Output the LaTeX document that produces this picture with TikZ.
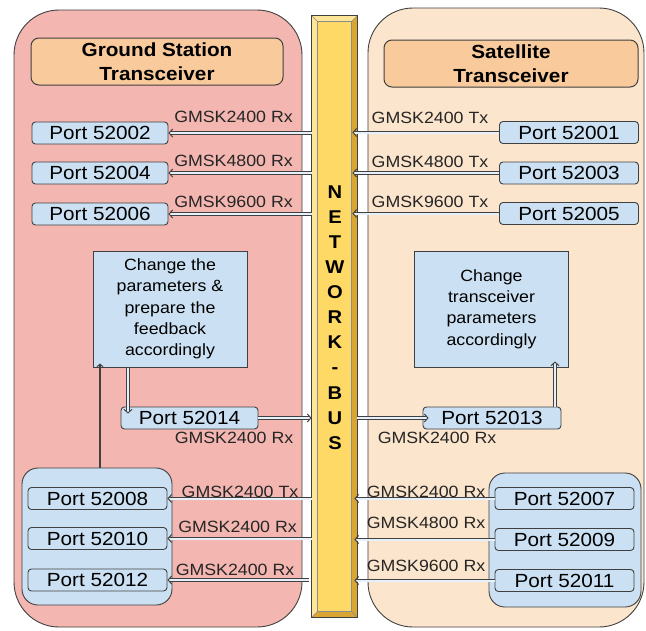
\documentclass[tikz,border=0pt]{standalone}
\usepackage{fontspec}
\setmainfont{Liberation Sans}[FakeStretch=1.09]
\usetikzlibrary{arrows.meta}
\definecolor{pinkC}{HTML}{F3B6B0}
\definecolor{peachC}{HTML}{FCE5CD}
\definecolor{titleC}{HTML}{F9CB9C}
\definecolor{portC}{HTML}{CBE1F3}
\definecolor{edgeC}{HTML}{404040}
\definecolor{busFace}{HTML}{FFD966}
\definecolor{busLight}{HTML}{FFE598}
\definecolor{busDark}{HTML}{D9A633}
\definecolor{arrowIn}{HTML}{E6F0FA}
\begin{document}
\begin{tikzpicture}[x=1pt,y=-1pt,
  panel/.style={draw=edgeC, line width=0.9pt, rounded corners=45pt},
  titlebox/.style={draw=edgeC, line width=1pt, fill=titleC, rounded corners=8pt, align=center,
     font=\fontsize{19}{24.5}\selectfont\bfseries},
  port/.style={draw=edgeC, line width=0.9pt, fill=portC, rounded corners=3.5pt, inner sep=0pt,
     minimum height=22pt, font=\fontsize{19}{22}\selectfont},
  grp/.style={draw=edgeC, line width=0.9pt, fill=portC, rounded corners=16pt, inner sep=0pt},
  actbox/.style={draw=edgeC, line width=1pt, fill=portC, inner sep=0pt, align=center,
     minimum width=154pt, minimum height=116pt, font=\fontsize{16.3}{21.3}\selectfont},
  lbl/.style={inner sep=0pt, font=\fontsize{16.3}{20}\selectfont, text=black!85},
  arr/.style={draw=edgeC, line width=0.75pt, double=arrowIn, double distance=2pt,
     -{Straight Barb[length=3.5pt,width=8pt,line width=1pt]}},
  solidarr/.style={draw=edgeC, line width=1.8pt,
     -{Straight Barb[length=2.5pt,width=6pt,line width=1pt]}},
]
\useasboundingbox (0,0) rectangle (646,630);
\fill[white] (0,0) rectangle (646,630);

% panels
\draw[panel, fill=pinkC] (14,10) rectangle (302,627);
\draw[panel, fill=peachC] (368,8) rectangle (644,627);

% titles
\node[titlebox, minimum width=252pt, minimum height=47pt] (tl) at (157,61.5) {Ground Station\\Transceiver};
\node[titlebox, minimum width=254pt, minimum height=47pt] (tr) at (511,63.5) {Satellite\\Transceiver};

% bus
\node[draw=edgeC, line width=0.9pt, fill=busDark, minimum width=45pt, minimum height=601pt, inner sep=0pt] (bus) at (334.5,316.5) {};
\fill[busLight] (bus.north west) -- (bus.north east) -- ([xshift=-6pt,yshift=-6pt]bus.north east)
  -- ([xshift=6pt,yshift=-6pt]bus.north west) -- ([xshift=6pt,yshift=6pt]bus.south west) -- (bus.south west) -- cycle;
\draw[fill=busFace, draw=edgeC!60, line width=0.4pt] ([xshift=6pt,yshift=-6pt]bus.north west) rectangle ([xshift=-6pt,yshift=6pt]bus.south east);
\draw[draw=edgeC!60, line width=0.4pt] (bus.north west) -- ([xshift=6pt,yshift=-6pt]bus.north west)
  (bus.north east) -- ([xshift=-6pt,yshift=-6pt]bus.north east)
  (bus.south west) -- ([xshift=6pt,yshift=6pt]bus.south west)
  (bus.south east) -- ([xshift=-6pt,yshift=6pt]bus.south east);
\draw[draw=edgeC, line width=0.9pt] (bus.north west) rectangle (bus.south east);
\node[inner sep=0pt, align=center, font=\fontsize{18.5}{25.1}\selectfont\bfseries] (bustxt) at (335,317.5)
  {N\\E\\T\\W\\O\\R\\K\\-\\B\\U\\S};

% upper ports
\node[port, minimum width=136pt] (p2) at (100,133) {Port 52002};
\node[port, minimum width=136pt] (p4) at (100,173) {Port 52004};
\node[port, minimum width=136pt] (p6) at (100,214) {Port 52006};
\node[port, minimum width=139pt] (p1) at (569,132.5) {Port 52001};
\node[port, minimum width=139pt] (p3) at (569,173) {Port 52003};
\node[port, minimum width=139pt] (p5) at (569,213.5) {Port 52005};

% action boxes
\node[actbox] (fbl) at (170,309) {Change the\\parameters \&\\prepare the\\feedback\\accordingly};
\node[actbox] (fbr) at (491.5,309) {Change\\transceiver\\parameters\\accordingly};

% middle ports
\node[port, minimum width=137pt] (p14) at (189.5,418) {Port 52014};
\node[port, minimum width=138pt] (p13) at (492,418) {Port 52013};

% groups
\node[grp, minimum width=150pt, minimum height=137pt] (gl) at (97,536.5) {};
\node[grp, minimum width=152pt, minimum height=134pt] (gr) at (565,540) {};
\node[port, minimum width=139pt] (p8) at (97.5,498.5) {Port 52008};
\node[port, minimum width=139pt] (p10) at (97.5,538.5) {Port 52010};
\node[port, minimum width=139pt] (p12) at (97.5,580) {Port 52012};
\node[port, minimum width=139pt] (p7) at (564.5,498.5) {Port 52007};
\node[port, minimum width=139pt] (p9) at (564.5,539.5) {Port 52009};
\node[port, minimum width=139pt] (p11) at (564.5,580.5) {Port 52011};

% labels
\node[lbl] (l2) at (233.5,117) {GMSK2400 Rx};
\node[lbl] (l4) at (233.5,161) {GMSK4800 Rx};
\node[lbl] (l6) at (233.5,202) {GMSK9600 Rx};
\node[lbl] (l1) at (430,118) {GMSK2400 Tx};
\node[lbl] (l3) at (430,161.5) {GMSK4800 Tx};
\node[lbl] (l5) at (430,201.5) {GMSK9600 Tx};
\node[lbl] (l14) at (234,438) {GMSK2400 Rx};
\node[lbl] (l13) at (437,438) {GMSK2400 Rx};
\node[lbl] (l8) at (240,492) {GMSK2400 Tx};
\node[lbl] (l10) at (237.5,527) {GMSK2400 Rx};
\node[lbl] (l12) at (235,570) {GMSK2400 Rx};
\node[lbl] (l7) at (426,492) {GMSK2400 Rx};
\node[lbl] (l9) at (426,523) {GMSK4800 Rx};
\node[lbl] (l11) at (426,566) {GMSK9600 Rx};

% connectors: bus -> left ports
\draw[arr] (p2.east -| bus.west) -- (p2.east);
\draw[arr] (p4.east -| bus.west) -- (p4.east);
\draw[arr] (p6.east -| bus.west) -- (p6.east);
\draw[arr] (p8.east -| bus.west) -- (p8.east);
\draw[arr] (p10.east -| bus.west) -- (p10.east);
\draw[arr] ([xshift=-3pt]p12.east -| bus.west) -- (p12.east);
% right ports -> bus
\draw[arr] (p1.west) -- ([xshift=-5pt]p1.west -| bus.east);
\draw[arr] (p3.west) -- ([xshift=-5pt]p3.west -| bus.east);
\draw[arr] (p5.west) -- ([xshift=-5pt]p5.west -| bus.east);
\draw[arr] (p7.west) -- ([xshift=-3pt]p7.west -| bus.east);
\draw[arr] (p9.west) -- ([xshift=-3pt]p9.west -| bus.east);
\draw[arr] (p11.west) -- ([xshift=-3pt]p11.west -| bus.east);
% feedback loop
\draw[arr] (p14.east) -- (p14.east -| bus.west);
\draw[arr] (p13.west -| bus.east) -- ([xshift=6pt]p13.west);
\draw[arr] ([xshift=63pt]p13.north) -- ([xshift=63pt,yshift=6pt]p13.north |- fbr.south);
\draw[arr] ([xshift=-42pt]fbl.south) -- ([xshift=-42pt,yshift=-7pt]fbl.south |- p14.north);
\draw[solidarr] ([xshift=3pt]gl.north) -- ([xshift=3pt,yshift=4pt]gl.north |- fbl.south);
\end{tikzpicture}
\end{document}
